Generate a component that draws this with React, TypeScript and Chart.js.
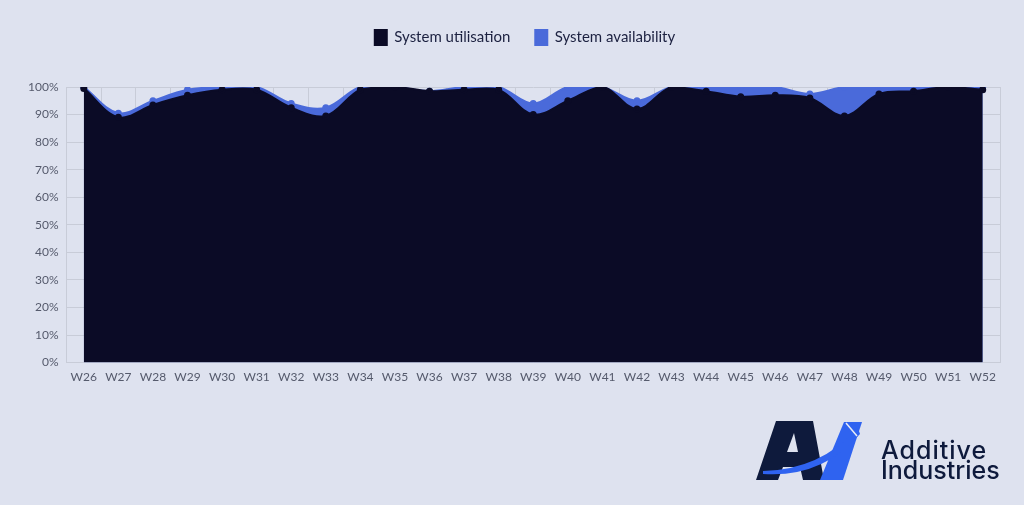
import React, { useEffect, useRef } from "react";
import { Chart, registerables } from "chart.js";

Chart.register(...registerables);

const weeks = ["W26","W27","W28","W29","W30","W31","W32","W33","W34","W35","W36","W37","W38","W39","W40","W41","W42","W43","W44","W45","W46","W47","W48","W49","W50","W51","W52"];
const utilisation = [99.5, 89, 93.5, 97, 99, 99, 92.5, 89.5, 99, 100, 98.5, 99, 99, 90, 95, 100, 92, 100, 98.5, 96.5, 97, 96, 89.5, 97.5, 98.5, 100, 99];
const availability = [100, 90.5, 95, 99, 100, 100, 94, 92.5, 100, 100, 98.5, 100, 100, 94, 100, 100, 95, 100, 100, 100, 100, 97.5, 100, 100, 100, 100, 100];
const yTicks = [0, 10, 20, 30, 40, 50, 60, 70, 80, 90, 100];

const BG = "#dee2ef";
const DARK = "#0b0b26";
const BLUE = "#4a6ada";
const GRID = "#c8ccd8";

const legendSpacer = {
  id: "legendSpacer",
  beforeInit(chart: any) {
    const legend = chart.legend;
    if (!legend) return;
    const origFit = legend.fit;
    legend.fit = function () {
      origFit.call(this);
      this.height += 32;
    };
  },
  afterLayout(chart: any) {
    const legend = chart.legend;
    if (!legend) return;
    legend.left += 15;
    legend.right += 15;
  },
};

export default function App() {
  const ref = useRef<HTMLCanvasElement | null>(null);
  useEffect(() => {
    if (!ref.current) return;
    const chart = new Chart(ref.current, {
      type: "line",
      data: {
        labels: weeks,
        datasets: [
          {
            label: "System utilisation",
            data: utilisation,
            borderColor: DARK,
            backgroundColor: DARK,
            pointBackgroundColor: DARK,
            pointBorderColor: DARK,
            fill: "origin",
            borderWidth: 2,
            pointRadius: 2.5,
            tension: 0.35,
          },
          {
            label: "System availability",
            data: availability,
            borderColor: BLUE,
            backgroundColor: BLUE,
            pointBackgroundColor: BLUE,
            pointBorderColor: BLUE,
            fill: "origin",
            borderWidth: 2,
            pointRadius: 2.5,
            tension: 0.35,
          },
        ],
      },
      options: {
        animation: false,
        responsive: true,
        maintainAspectRatio: false,
        layout: { padding: { top: 5, left: 20, right: 24, bottom: 114 } },
        plugins: {
          legend: {
            position: "top",
            labels: {
              boxWidth: 12,
              boxHeight: 15,
              padding: 25,
              color: "#1c2140",
              font: { family: "Lato", size: 15 },
            },
          },
          tooltip: { enabled: false },
        },
        scales: {
          x: {
            offset: true,
            grid: { offset: true, color: GRID, drawTicks: false },
            border: { color: GRID },
            ticks: { color: "#555a6c", padding: 7, font: { family: "Lato", size: 12 } },
          },
          y: {
            min: 0,
            max: 100,
            afterBuildTicks(axis: any) {
              axis.ticks = yTicks.map((v) => ({ value: v }));
            },
            grid: { color: GRID, drawTicks: false },
            border: { color: GRID },
            ticks: {
              color: "#555a6c",
              padding: 8,
              font: { family: "Lato", size: 12 },
              callback: (v: any) => v + "%",
            },
          },
        },
      },
      plugins: [legendSpacer],
    });
    return () => chart.destroy();
  }, []);

  return (
    <div style={{ position: "absolute", left: 0, top: 0, width: 1024, height: 505, background: BG, overflow: "hidden" }}>
      <div style={{ position: "absolute", left: 0, top: 0, width: 1024, height: 505 }}>
        <canvas ref={ref} />
      </div>
      <svg style={{ position: "absolute", left: 750, top: 415 }} width={120} height={70} viewBox="750 415 120 70">
        <path
          fillRule="evenodd"
          fill="#0e1a3c"
          d="M756 480 L776 421 L813 421 L824 480 L803 480 L800 467 L783 467 L778 480 Z M787 452 L798 452 L794 433 Z"
        />
        <path fill="#2f63f0" d="M820 480 L844 422 L862 422 L843 480 Z" />
        <path fill="#2f63f0" d="M763 471 Q820 470 858 428 L860 434 Q822 478 763 474 Z" />
        <path stroke="#e8ecf6" strokeWidth={1.5} fill="none" d="M846 423 L857 436" />
      </svg>
      <div
        style={{
          position: "absolute",
          left: 881,
          top: 440,
          fontFamily: "Inter",
          fontWeight: 500,
          fontSize: 25,
          lineHeight: "20px",
          color: "#0e1a3c",
          letterSpacing: 0,
        }}
      >
        <div style={{ letterSpacing: 1 }}>Additive</div>
        <div>Industries</div>
      </div>
    </div>
  );
}
